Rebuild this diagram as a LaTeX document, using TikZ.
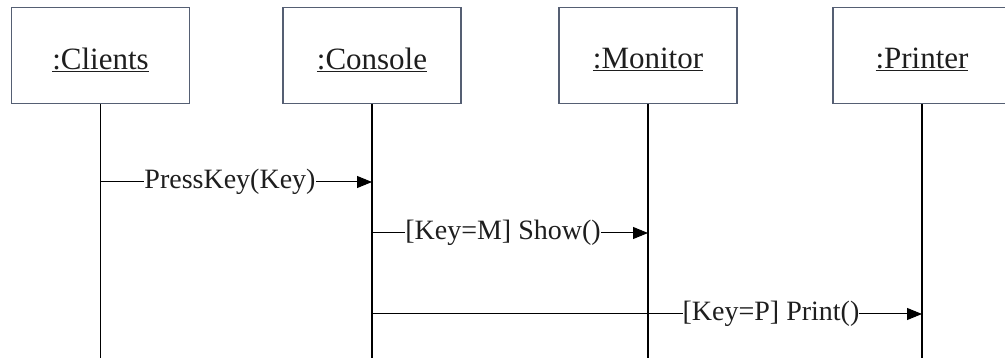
\documentclass[tikz,border=0pt]{standalone}
\usepackage{fontspec}
\setmainfont{Liberation Serif}
\usetikzlibrary{arrows.meta,positioning}
\definecolor{boxedge}{RGB}{85,95,115}
\definecolor{inkgray}{RGB}{30,30,30}

\tikzset{
  objbox/.style={draw=boxedge,line width=1.1pt,minimum width=178pt,minimum height=96pt},
  objname/.style={font=\fontsize{31}{34}\selectfont,text=inkgray,at={(#1.center)},yshift=-4pt},
  lifeline/.style={line width=1.2pt},
  msgline/.style={line width=1pt,-{Triangle[length=15pt,width=12pt]}},
  msglbl/.style={fill=white,inner sep=0pt,font=\fontsize{28}{31}\selectfont,text=inkgray}
}

\begin{document}
\begin{tikzpicture}[x=1pt,y=-1pt]
  \useasboundingbox (0,0) rectangle (1005,358);
  % objects
  \node[objbox] (clients) at (100.5,55.5) {};
  \node[objbox] (console) at (372,55.5) {};
  \node[objbox] (monitor) at (648,55.5) {};
  \node[objbox] (printer) at (922,55.5) {};
  \node[objname=clients] (clients-name) {\underline{:Clients}};
  \node[objname=console] (console-name) {\underline{:Console}};
  \node[objname=monitor] (monitor-name) {\underline{:Monitor}};
  \node[objname=printer] (printer-name) {\underline{:Printer}};
  % lifelines
  \coordinate (clients-end) at (clients.south |- 0,358);
  \coordinate (console-end) at (console.south |- 0,358);
  \coordinate (monitor-end) at (monitor.south |- 0,358);
  \coordinate (printer-end) at (printer.south |- 0,358);
  \draw[lifeline] (clients.south) -- (clients-end);
  \draw[lifeline] (console.south) -- (console-end);
  \draw[lifeline] (monitor.south) -- (monitor-end);
  \draw[lifeline] (printer.south) -- (printer-end);
  % messages
  \coordinate (m1-from) at (clients.south |- 0,182);
  \coordinate (m1-to) at (console.south |- 0,182);
  \coordinate (m2-from) at (console.south |- 0,233);
  \coordinate (m2-to) at (monitor.south |- 0,233);
  \coordinate (m3-from) at (console.south |- 0,314);
  \coordinate (m3-to) at (printer.south |- 0,314);
  \draw[msgline] (m1-from) -- (m1-to);
  \draw[msgline] (m2-from) -- (m2-to);
  \draw[msgline] (m3-from) -- (m3-to);
  \node[msglbl] (m1-text) at (230,182) {PressKey(Key)};
  \node[msglbl] (m2-text) at (503,233) {[Key=M] Show()};
  \node[msglbl] (m3-text) at (771,314) {[Key=P] Print()};
\end{tikzpicture}
\end{document}
